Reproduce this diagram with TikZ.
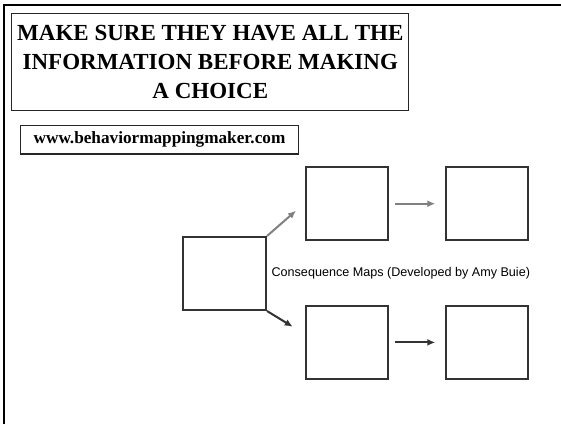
\documentclass[tikz,border=0pt]{standalone}
\usepackage{fontspec}
\setmainfont{Liberation Serif}
\newfontfamily\mapfont{Liberation Sans}
\usetikzlibrary{arrows.meta,positioning}
\definecolor{boxgrey}{RGB}{51,51,51}
\definecolor{arrgrey}{RGB}{128,128,128}

\begin{document}
\begin{tikzpicture}[x=1pt,y=-1pt,
  every node/.style={inner sep=0pt},
  banner/.style={draw=black!85,line width=1.2pt,align=center,
                 font=\bfseries\fontsize{23}{29}\selectfont,
                 minimum width=397pt,minimum height=97pt},
  weblink/.style={draw=black!85,line width=1.4pt,
                  font=\bfseries\fontsize{17.2}{20}\selectfont,
                  minimum width=277.6pt,minimum height=28.7pt},
  mapbox/.style={draw=boxgrey,line width=2pt,minimum width=82pt,minimum height=72.7pt},
  litear/.style={-{Latex[length=8pt,width=7pt]},draw=arrgrey,fill=arrgrey,line width=2pt},
  darkar/.style={-{Latex[length=8pt,width=7pt]},draw=boxgrey,fill=boxgrey,line width=2pt}]
\useasboundingbox (0,0) rectangle (561,424);
% slide frame
\draw[line width=2.4pt] (4,424) -- (4,5) -- (561,5);
\node[banner] (title) at (210.3,62.2) {MAKE SURE THEY HAVE ALL THE\\INFORMATION BEFORE MAKING\\A CHOICE};
\node[weblink] (site) at (159.5,139.7) {www.behaviormappingmaker.com};
% consequence map
\node[mapbox,minimum width=83pt,minimum height=73pt] (act) at (224.5,273.5) {};
\node[mapbox] (up1) at (346.7,203.7) {};
\node[mapbox,right=56.3pt of up1] (up2) {};
\node[mapbox,below=64pt of up1] (dn1) {};
\node[mapbox,right=56.3pt of dn1] (dn2) {};
\coordinate (uptip) at (296,210.7);
\coordinate (dntip) at (292.7,326.7);
\draw[litear] (act.north east) -- (uptip);
\draw[darkar] (act.south east) -- (dntip);
\draw[litear,shorten <=6.3pt,shorten >=9.7pt] (up1) -- (up2);
\draw[darkar,shorten <=6.3pt,shorten >=9.7pt] (dn1) -- (dn2);
\node[anchor=base,font=\mapfont\fontsize{12.6}{15}\selectfont] (cap) at (400.8,276) {Consequence Maps (Developed by Amy Buie)};
\end{tikzpicture}
\end{document}
